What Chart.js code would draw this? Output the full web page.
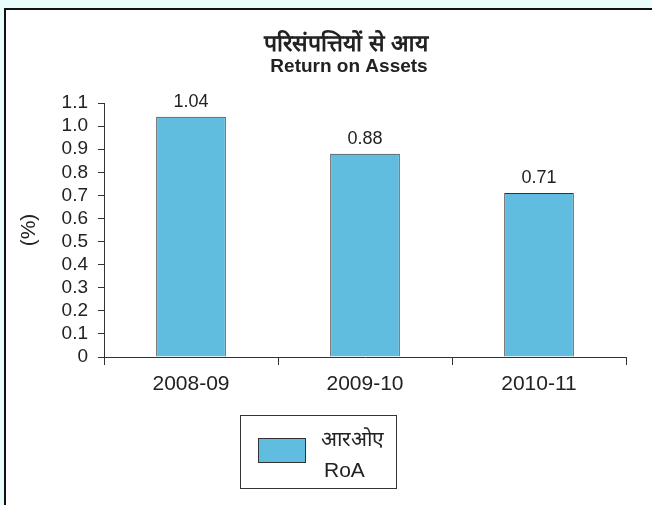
<!DOCTYPE html>
<html>
<head>
<meta charset="utf-8">
<script src="https://cdn.jsdelivr.net/npm/chart.js@4"></script>
<style>
  html, body { margin: 0; padding: 0; background: #e8fcfc; overflow: hidden; }
  #frame { position: absolute; left: 4px; top: 8px; width: 720px; height: 620px; background: #fff;
           border-left: 2px solid #111; border-top: 2px solid #111; }
  #wrap { position: absolute; left: 0; top: 0; width: 652px; height: 505px; }
</style>
</head>
<body>
<div id="frame"></div>
<div id="wrap"><canvas id="roaChart" width="652" height="505"></canvas></div>
<script>
// chart data
const years = ['2008-09', '2009-10', '2010-11'];
const roa = [1.04, 0.88, 0.71];
const yTickLabels = ['0', '0.1', '0.2', '0.3', '0.4', '0.5', '0.6', '0.7', '0.8', '0.9', '1.0', '1.1'];
const titleHi = 'परिसंपत्तियों से आय';
const titleEn = 'Return on Assets';
const legendHi = 'आरओए';
const legendEn = 'RoA';
const yTitle = '(%)';

const barColor = '#61bde0';
const ink = '#222';
const FONT = 'Arial, "Liberation Sans", sans-serif';

// title, value labels and the boxed legend
const extras = {
  id: 'extras',
  afterDatasetsDraw(chart) {
    const ctx = chart.ctx;
    ctx.save();
    ctx.fillStyle = ink;
    ctx.textAlign = 'center';
    ctx.textBaseline = 'bottom';
    ctx.font = '18px ' + FONT;
    chart.getDatasetMeta(0).data.forEach((bar, i) => {
      ctx.fillText(roa[i].toFixed(2), bar.x, bar.y - 6);
    });
    ctx.restore();
  },
  afterDraw(chart) {
    const ctx = chart.ctx;
    ctx.save();
    ctx.fillStyle = ink;
    ctx.textAlign = 'center';
    ctx.textBaseline = 'middle';
    ctx.font = 'bold 23px ' + FONT;
    ctx.fillText(titleHi, 346, 45);
    ctx.font = 'bold 19px ' + FONT;
    ctx.fillText(titleEn, 349, 67);

    // legend
    ctx.strokeStyle = '#333';
    ctx.lineWidth = 1;
    ctx.strokeRect(240.5, 415.5, 156, 73);
    ctx.fillStyle = barColor;
    ctx.fillRect(258.5, 438.5, 47, 24);
    ctx.strokeRect(258.5, 438.5, 47, 24);
    ctx.fillStyle = ink;
    ctx.textAlign = 'left';
    ctx.font = '21px ' + FONT;
    ctx.fillText(legendHi, 321, 440);
    ctx.fillText(legendEn, 324, 471);
    ctx.restore();
  }
};

new Chart(document.getElementById('roaChart'), {
  type: 'bar',
  data: {
    labels: years,
    datasets: [{
      label: legendEn,
      data: roa,
      backgroundColor: barColor,
      borderColor: '#333',
      borderWidth: 1,
      barPercentage: 0.4,
      categoryPercentage: 1.0
    }]
  },
  options: {
    responsive: false,
    animation: false,
    devicePixelRatio: 1,
    layout: { padding: { left: 0, right: 26, top: 103, bottom: 0 } },
    plugins: {
      legend: { display: false },
      tooltip: { enabled: false }
    },
    scales: {
      x: {
        offset: true,
        afterFit: s => { s.height = 148; },
        border: { display: true, color: '#333', width: 1 },
        grid: { display: true, offset: true, drawOnChartArea: false, drawTicks: true, tickLength: 8, color: '#333' },
        ticks: { color: ink, font: { family: FONT, size: 21 }, padding: 7 }
      },
      y: {
        min: 0,
        max: 1.1,
        afterFit: s => { s.width = 104; },
        border: { display: true, color: '#333', width: 1 },
        grid: { display: true, drawOnChartArea: false, drawTicks: true, tickLength: 6, color: '#333' },
        ticks: {
          stepSize: 0.1,
          autoSkip: false,
          color: ink,
          font: { family: FONT, size: 19 },
          padding: 10,
          callback: (v, i) => yTickLabels[i]
        },
        title: {
          display: true,
          text: yTitle,
          color: ink,
          font: { family: FONT, size: 21 },
          padding: { top: 17, bottom: 0 }
        }
      }
    }
  },
  plugins: [extras]
});
</script>
</body>
</html>
